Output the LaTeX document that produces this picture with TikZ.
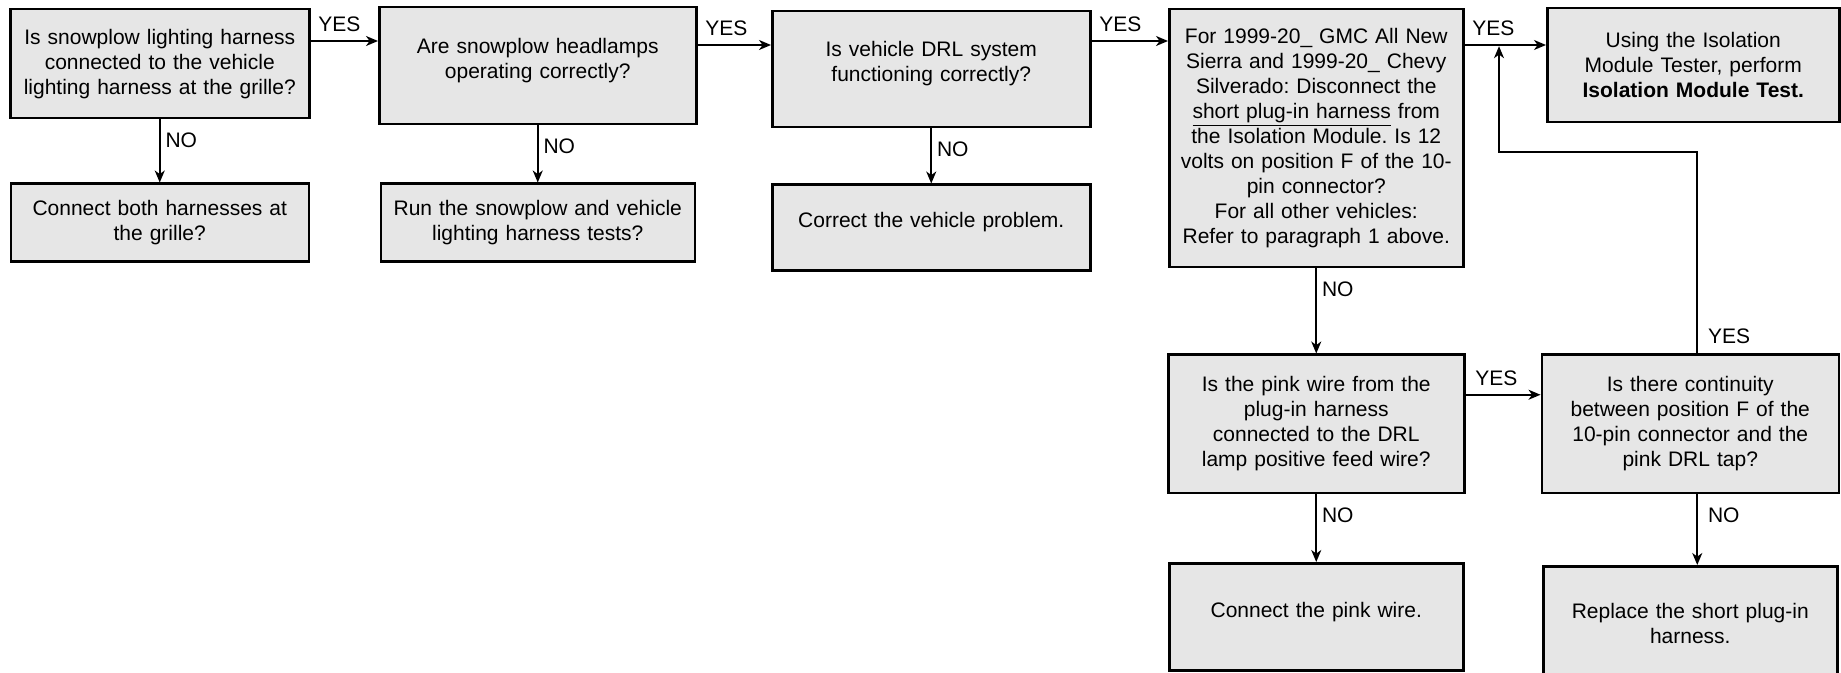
\documentclass[tikz,border=0pt]{standalone}
\usepackage{fontspec}
\setmainfont{Liberation Sans}
\usetikzlibrary{positioning,arrows.meta}
\definecolor{BoxGray}{HTML}{E6E6E6}
\frenchspacing

\begin{document}
\begin{tikzpicture}[x=0.5pt,y=-0.5pt,>={Stealth[length=6pt,width=5pt,inset=1.8pt]},
  font=\fontsize{10.5}{12.5}\selectfont]
  \tikzstyle{stepbox}=[draw,line width=1.25pt,fill=BoxGray,inner sep=0pt,align=center]
  \tikzstyle{flow}=[->,line width=0.8pt]
  \tikzstyle{yeslab}=[pos=0,inner sep=0pt,anchor=south west,xshift=3.5pt,yshift=4pt]
  \tikzstyle{nolab}=[pos=0,inner sep=0pt,anchor=north west,xshift=2.5pt,yshift=-6.5pt]
  \useasboundingbox (0,0) rectangle (1841,673);
  % top row of questions
  \node[stepbox,anchor=north west,minimum width=149.5pt,minimum height=54.5pt,text width=144pt]
    (q1) at (9,8) {Is snowplow lighting harness\\connected to the vehicle\\lighting harness at the grille?};
  \node[stepbox,anchor=north west,minimum width=158.5pt,minimum height=58.5pt,text width=150pt,text depth=19.7pt]
    (q2) at (378,6) {Are snowplow headlamps\\operating correctly?};
  \node[stepbox,anchor=north west,minimum width=159pt,minimum height=58pt,text width=150pt,text depth=20.7pt]
    (q3) at (771,10) {Is vehicle DRL system\\functioning correctly?};
  \node[stepbox,anchor=north west,minimum width=147pt,minimum height=129pt,text width=144pt]
    (q4) at (1168,8) {For 1999-20\_ GMC All New\\Sierra and 1999-20\_ Chevy\\Silverado: Disconnect the\\
    \underline{short plug-in harness} from\\the Isolation Module. Is 12\\volts on position F of the 10-\\
    pin connector?\\For all other vehicles:\\Refer to paragraph 1 above.};
  \node[stepbox,anchor=north west,minimum width=146pt,minimum height=57pt,text width=142pt]
    (r4) at (1546,7) {Using the Isolation\\Module Tester, perform\\\textbf{Isolation Module Test.}};
  % answers below
  \node[stepbox,below=31.5pt of q1,minimum width=149pt,minimum height=39pt,text width=144pt]
    (c1) {Connect both harnesses at\\the grille?};
  \node[stepbox,below=28.5pt of q2,minimum width=157pt,minimum height=39pt,text width=150pt]
    (c2) {Run the snowplow and vehicle\\lighting harness tests?};
  \node[stepbox,below=27.5pt of q3,minimum width=159pt,minimum height=43pt,text width=150pt,text depth=8pt]
    (c3) {Correct the vehicle problem.};
  \node[stepbox,below=42.5pt of q4,minimum width=148pt,minimum height=69pt,text width=144pt]
    (q5) {Is the pink wire from the\\plug-in harness\\connected to the DRL\\lamp positive feed wire?};
  \node[stepbox,right=37.5pt of q5,minimum width=148.5pt,minimum height=69pt,text width=144pt]
    (q6) {Is there continuity\\between position F of the\\10-pin connector and the\\pink DRL tap?};
  \node[stepbox,below=34pt of q5,minimum width=147pt,minimum height=53.5pt,text width=144pt,text depth=6.7pt]
    (c5) {Connect the pink wire.};
  \node[stepbox,below=35.5pt of q6,minimum width=147pt,minimum height=57pt,text width=144pt]
    (c6) {Replace the short plug-in\\harness.};
  % YES connectors
  \draw[flow] ([yshift=-16.5pt]q1.north east) coordinate (y1) -- (y1 -| q2.west) node[yeslab] {YES};
  \draw[flow] ([yshift=-19.5pt]q2.north east) coordinate (y2) -- (y2 -| q3.west) node[yeslab] {YES};
  \draw[flow] ([yshift=-15.5pt]q3.north east) coordinate (y3) -- (y3 -| q4.west) node[yeslab] {YES};
  \draw[flow] ([yshift=-18.5pt]q4.north east) coordinate (y4) -- (y4 -| r4.west) node[yeslab] {YES};
  \draw[flow] ([yshift=14.5pt]q5.east) coordinate (y5) -- (y5 -| q6.west) node[yeslab,xshift=1pt] {YES};
  \coordinate (bend) at (1499,152);
  \draw[flow,shorten >=0.6pt] ([xshift=3.5pt]q6.north) coordinate (s6)
    node[inner sep=0pt,anchor=south west,xshift=5pt,yshift=4.5pt] {YES} |- (bend) -- (bend |- y4);
  % NO connectors
  \draw[flow] (q1) -- (c1) node[nolab] {NO};
  \draw[flow] (q2) -- (c2) node[nolab] {NO};
  \draw[flow] (q3) -- (c3) node[nolab] {NO};
  \draw[flow] (q4) -- (q5) node[nolab] {NO};
  \draw[flow] (q5) -- (c5) node[nolab] {NO};
  \draw[flow] ([xshift=3.5pt]q6.south) coordinate (n6) -- (n6 |- c6.north) node[nolab,xshift=2.5pt] {NO};
\end{tikzpicture}
\end{document}
